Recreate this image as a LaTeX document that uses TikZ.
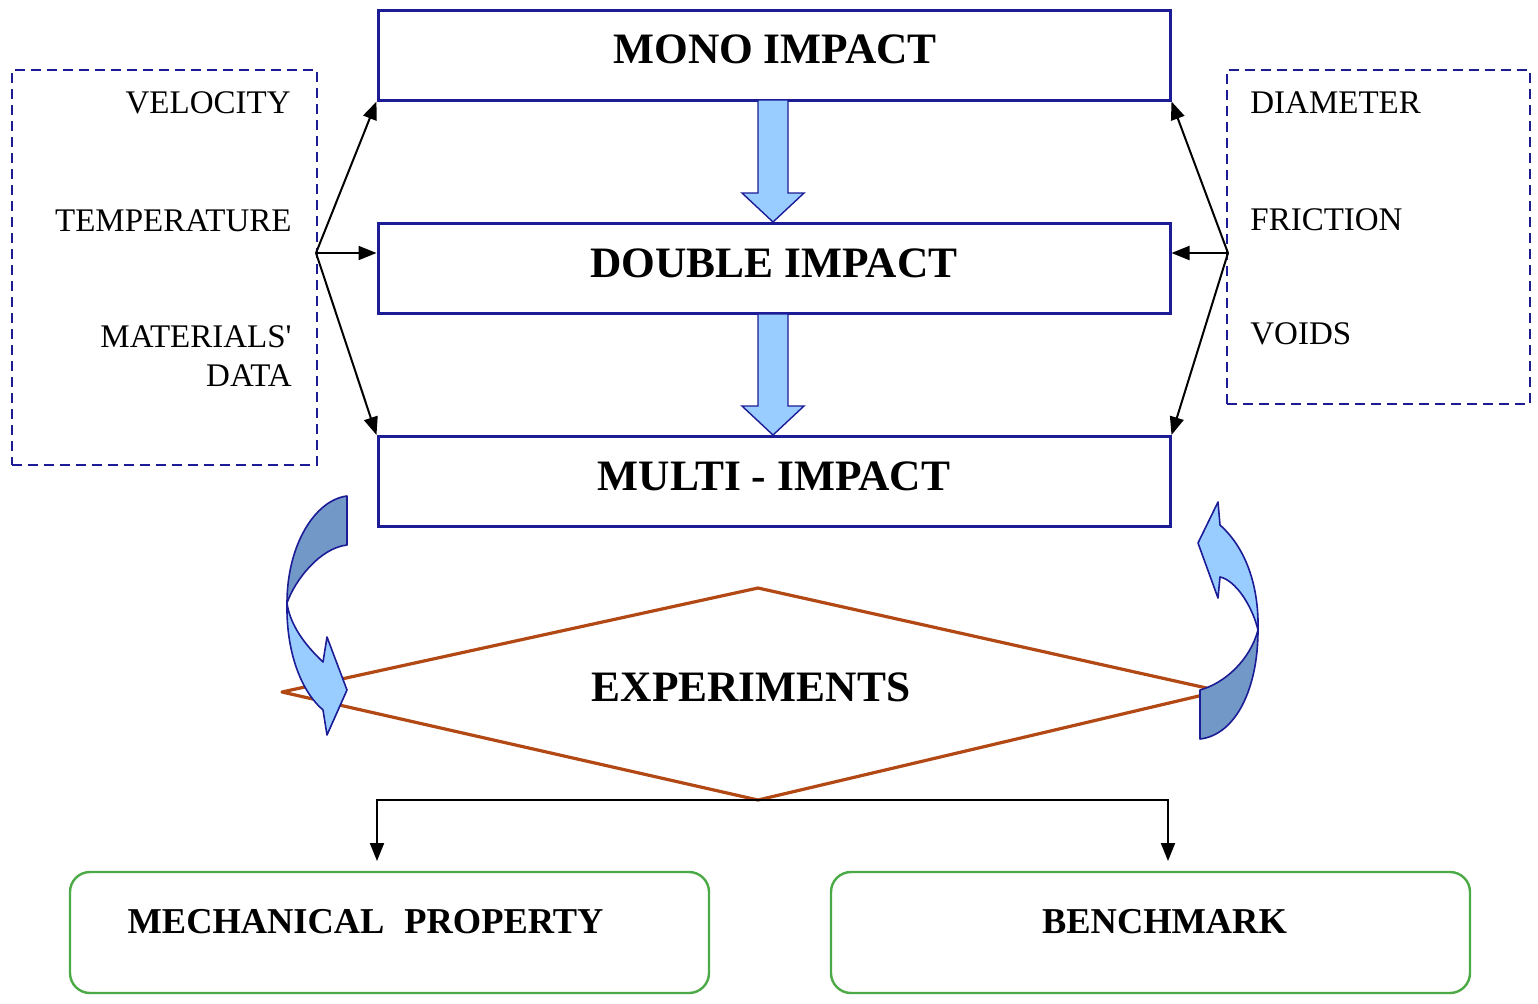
\documentclass[tikz,border=0pt]{standalone}
\usepackage{fontspec}
\setmainfont{Liberation Serif}
\usetikzlibrary{arrows.meta,calc}
\definecolor{navybox}{RGB}{28,28,150}
\definecolor{rust}{RGB}{178,72,20}
\definecolor{greenbox}{RGB}{76,170,70}
\definecolor{lightblue}{RGB}{153,204,255}
\definecolor{darkblue}{RGB}{114,152,200}
\begin{document}
\begin{tikzpicture}[x=0.5pt,y=-0.5pt,
  mainbox/.style={draw=navybox, line width=1.5pt, minimum width=396pt, minimum height=45pt, inner sep=0pt},
  sidebox/.style={draw=navybox, line width=1pt, dash pattern=on 5pt off 3pt, inner sep=0pt},
  resbox/.style={draw=greenbox, line width=1.2pt, rounded corners=10pt, minimum width=319.5pt, minimum height=60.5pt, inner sep=0pt},
  headtext/.style={font=\fontsize{21.7}{26}\selectfont\bfseries, inner sep=0pt},
  subtext/.style={font=\fontsize{18.2}{22}\selectfont\bfseries, inner sep=0pt},
  paramtext/.style={font=\fontsize{16.5}{19.5}\selectfont, inner sep=0pt},
  link/.style={line width=1pt, -{Triangle[length=9pt,width=7pt]}},
  blockarrow/.style={draw=navybox, line width=0.7pt, fill=lightblue, line join=miter},
  curvefront/.style={draw=navybox, line width=0.8pt, fill=lightblue, line join=round},
  curveback/.style={draw=navybox, line width=0.8pt, fill=darkblue, line join=round},
  diamondline/.style={draw=rust, line width=1.6pt, line join=round}]
\useasboundingbox (0,0) rectangle (1538,1003);

% main boxes
\node[mainbox] (mono) at (774,55) {};
\node[mainbox] (double) at (774,268.5) {};
\node[mainbox] (multi) at (774,481.5) {};
\node[headtext] (monot) at (775,49.5) {MONO IMPACT};
\node[headtext] (doublet) at (774,263) {DOUBLE IMPACT};
\node[headtext] (multit) at (774,476) {MULTI - IMPACT};

% block arrows
\draw[blockarrow] (758,100) -- (758,193) -- (742,193) -- (773,222) -- (804,193) -- (788,193) -- (788,100) -- cycle;
\draw[blockarrow] (758,314) -- (758,406) -- (742,406) -- (773,435) -- (804,406) -- (788,406) -- (788,314) -- cycle;

% side boxes
\node[sidebox, minimum width=152.5pt, minimum height=197.5pt] (leftbox) at (164.5,267.5) {};
\node[sidebox, minimum width=151.5pt, minimum height=167pt] (rightbox) at (1378.5,237) {};
\node[paramtext, anchor=east] (vel) at (291,103) {VELOCITY};
\node[paramtext, anchor=east] (temp) at (292,221) {TEMPERATURE};
\node[paramtext, anchor=east, align=right] (mat) at (292,356) {MATERIALS\textquotesingle\\DATA};
\node[paramtext, anchor=west] (diam) at (1250,103) {DIAMETER};
\node[paramtext, anchor=west] (fric) at (1250,220) {FRICTION};
\node[paramtext, anchor=west] (voids) at (1250,334) {VOIDS};

% input arrows
\coordinate (lsrc) at (316,253);
\coordinate (rsrc) at (1228,253);
\draw[link] (lsrc) -- (mono.south west);
\draw[link] (lsrc) -- (double.west |- lsrc);
\draw[link] (lsrc) -- (multi.north west);
\draw[link] (rsrc) -- (mono.south east);
\draw[link] (rsrc) -- (double.east |- rsrc);
\draw[link] (rsrc) -- (multi.north east);

% experiments diamond
\coordinate (dtop) at (758,588);
\coordinate (dright) at (1220,691);
\coordinate (dbot) at (758,800);
\coordinate (dleft) at (282,692);
\draw[diamondline] (dtop) -- (dright) -- (dbot) -- (dleft) -- cycle;
\node[headtext] (exp) at (751,687) {EXPERIMENTS};

% curved arrows (left)
\draw[curveback] (347,496) .. controls (315,500) and (287,545) .. (287,603)
  .. controls (295,580) and (320,548) .. (347,545) -- cycle;
\draw[curvefront] (287,603) .. controls (286,650) and (300,690) .. (323,710)
  -- (327,735) -- (347,690) -- (327,637) -- (323,662)
  .. controls (305,645) and (290,625) .. (287,603) -- cycle;
% curved arrows (right)
\draw[curvefront] (1258,630) .. controls (1259,590) and (1248,550) .. (1220,525)
  -- (1218,502) -- (1198,543) -- (1218,598) -- (1220,577)
  .. controls (1235,580) and (1252,605) .. (1258,630) -- cycle;
\draw[curveback] (1258,630) .. controls (1258,690) and (1235,735) .. (1200,739)
  -- (1200,690) .. controls (1225,683) and (1250,660) .. (1258,630) -- cycle;

% results
\node[resbox] (mech) at (389.5,932.5) {};
\node[resbox] (bench) at (1150.5,932.5) {};
\node[subtext] (mecht) at (365.5,922) {MECHANICAL\hspace{0.3em} PROPERTY};
\node[subtext] (bencht) at (1164.5,922) {BENCHMARK};
\coordinate (mtop) at (377,861);
\coordinate (btop) at (1168,861);
\draw[link] (dbot) -| (mtop);
\draw[link] (dbot) -| (btop);
\end{tikzpicture}
\end{document}
